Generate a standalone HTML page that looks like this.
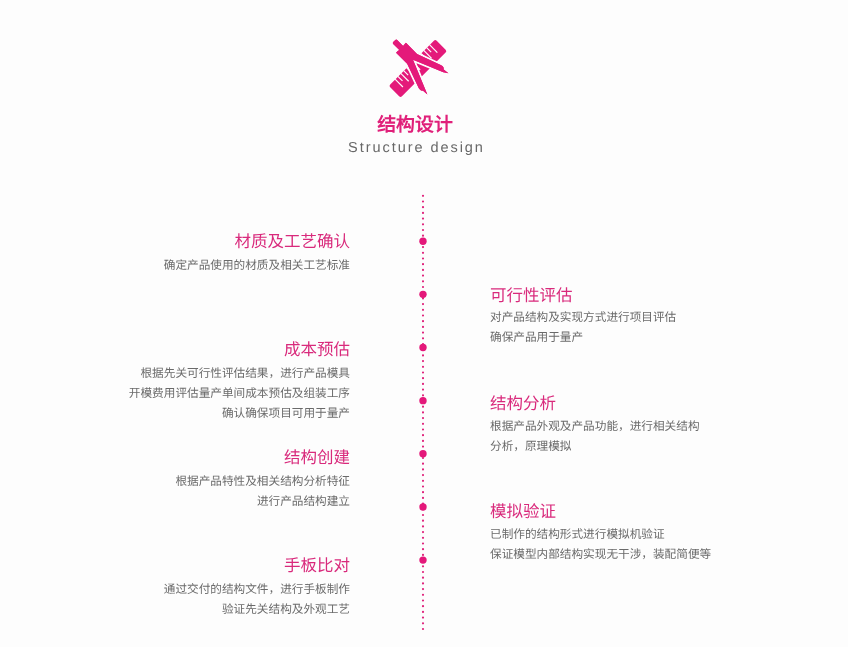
<!DOCTYPE html>
<html lang="zh-CN">
<head>
<meta charset="utf-8">
<title>结构设计</title>
<style>
html,body{margin:0;padding:0;}
body{width:848px;height:647px;background:#fdfdfd;position:relative;overflow:hidden;font-family:"Liberation Sans",sans-serif;text-rendering:geometricPrecision;-webkit-font-smoothing:antialiased;will-change:transform;}
.abs{position:absolute;}
#icon{left:380px;top:30px;width:80px;height:75px;}
#title{left:-9px;width:848px;top:114.2px;text-align:center;color:#e0207a;font-size:18.9px;font-weight:bold;line-height:24px;letter-spacing:0;}
#sub{left:-7.5px;width:848px;top:138px;text-align:center;color:#686868;font-size:14.5px;line-height:20px;letter-spacing:1.95px;}
#line{left:412px;top:185px;width:20px;height:455px;}
.item{position:absolute;}
.l{right:498px;text-align:right;}
.r{left:490px;text-align:left;}
.item h3{margin:0;font-weight:normal;color:#d92a7c;font-size:16.5px;line-height:22px;white-space:nowrap;}
.item p{margin:0;color:#6a6a6a;font-size:11.65px;line-height:20.2px;white-space:nowrap;}
.item p.first{margin-top:2.6px;}
</style>
</head>
<body>
<svg id="icon" class="abs" viewBox="0 0 80 75">
  <g transform="translate(14.28 11.04) rotate(45)">
    <rect x="27.85" y="-30.15" width="16.6" height="65.75" rx="2" fill="#e41a7a"/>
    <g stroke="#fdfdfd" stroke-width="1.15" fill="none">
      <line x1="27.5" y1="26.40" x2="38.6" y2="26.40"/>
      <line x1="27.5" y1="22.34" x2="33.9" y2="22.34"/>
      <line x1="27.5" y1="18.28" x2="38.6" y2="18.28"/>
      <line x1="27.5" y1="14.22" x2="33.9" y2="14.22"/>
      <line x1="27.5" y1="10.16" x2="38.6" y2="10.16"/>
      <line x1="27.5" y1="6.10" x2="33.9" y2="6.10"/>
      <line x1="27.5" y1="2.04" x2="38.6" y2="2.04"/>
      <line x1="27.5" y1="-2.02" x2="33.9" y2="-2.02"/>
      <line x1="27.5" y1="-6.08" x2="38.6" y2="-6.08"/>
      <line x1="27.5" y1="-10.14" x2="33.9" y2="-10.14"/>
      <line x1="27.5" y1="-14.20" x2="38.6" y2="-14.20"/>
      <line x1="27.5" y1="-18.26" x2="33.9" y2="-18.26"/>
      <line x1="27.5" y1="-22.32" x2="38.6" y2="-22.32"/>
    </g>
    <g fill="#e41a7a" stroke="#fdfdfd" stroke-width="3.6" stroke-linejoin="miter" paint-order="stroke">
      <path d="M9.5,-7 L25.2,-7 L49.8,-15.85 Q54.2,-17.2 54.7,-14.8 L61.1,-15.5 L56.8,-12.5 L26.5,0 L61.2,14.4 L55.2,14.9 Q54.3,17 50.8,16.1 L25.2,7 L9.5,7 Z"/>
      <rect x="0" y="-2.8" width="12" height="5.6" rx="1.3"/>
    </g>
    <g fill="#e41a7a">
      <path d="M9.5,-7 L25.2,-7 L49.8,-15.85 Q54.2,-17.2 54.7,-14.8 L61.1,-15.5 L56.8,-12.5 L26.5,0 L61.2,14.4 L55.2,14.9 Q54.3,17 50.8,16.1 L25.2,7 L9.5,7 Z"/>
      <rect x="0" y="-2.8" width="12" height="5.6" rx="1.3"/>
    </g>
  </g>
</svg>
<div id="title" class="abs">结构设计</div>
<div id="sub" class="abs">Structure design</div>
<svg id="line" class="abs" viewBox="0 0 20 455">
  <line x1="11" y1="10.8" x2="11" y2="445" stroke="#e0247c" stroke-width="2.2" stroke-linecap="round" stroke-dasharray="0 5.7"/>
  <g fill="#e4187a">
    <circle cx="11" cy="56.20" r="3.7"/>
    <circle cx="11" cy="109.35" r="3.7"/>
    <circle cx="11" cy="162.50" r="3.7"/>
    <circle cx="11" cy="215.65" r="3.7"/>
    <circle cx="11" cy="268.80" r="3.7"/>
    <circle cx="11" cy="321.95" r="3.7"/>
    <circle cx="11" cy="375.10" r="3.7"/>
  </g>
</svg>

<div class="item l" style="top:231px"><h3>材质及工艺确认</h3><p class="first">确定产品使用的材质及相关工艺标准</p></div>
<div class="item l" style="top:339px"><h3>成本预估</h3><p class="first">根据先关可行性评估结果，进行产品模具</p><p>开模费用评估量产单间成本预估及组装工序</p><p>确认确保项目可用于量产</p></div>
<div class="item l" style="top:447px"><h3>结构创建</h3><p class="first">根据产品特性及相关结构分析特征</p><p>进行产品结构建立</p></div>
<div class="item l" style="top:555px"><h3>手板比对</h3><p class="first">通过交付的结构文件，进行手板制作</p><p>验证先关结构及外观工艺</p></div>

<div class="item r" style="top:285px"><h3>可行性评估</h3><p class="first" style="margin-top:1px">对产品结构及实现方式进行项目评估</p><p>确保产品用于量产</p></div>
<div class="item r" style="top:393px"><h3>结构分析</h3><p class="first" style="margin-top:1.9px">根据产品外观及产品功能，进行相关结构</p><p>分析，原理模拟</p></div>
<div class="item r" style="top:501px"><h3>模拟验证</h3><p class="first" style="margin-top:2.1px">已制作的结构形式进行模拟机验证</p><p>保证模型内部结构实现无干涉，装配简便等</p></div>
</body>
</html>
